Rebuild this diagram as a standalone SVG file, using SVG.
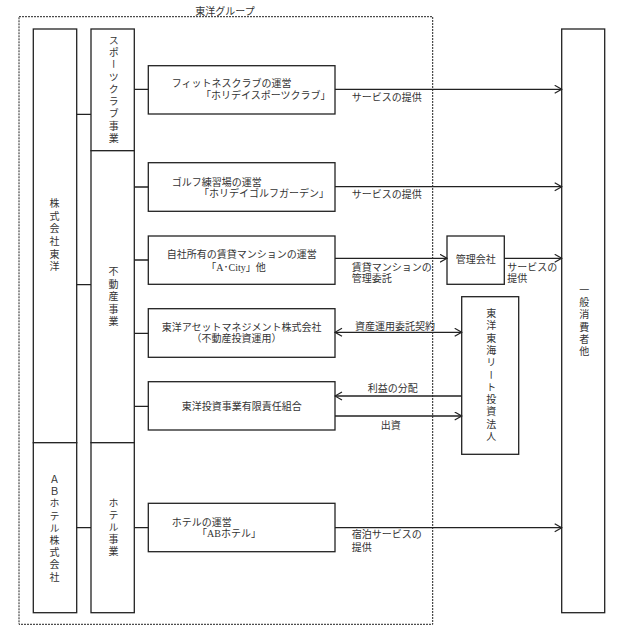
<svg xmlns="http://www.w3.org/2000/svg" width="624" height="630" viewBox="0 0 624 630">
<style>
text{font-family:"Liberation Serif","Noto Sans CJK JP",serif;font-size:10px;fill:#333}
.box{fill:#fff;stroke:#222;stroke-width:1.3}
.ln{fill:none;stroke:#222;stroke-width:1.3}
.v{writing-mode:vertical-rl}
.m{text-anchor:middle}
</style>
<defs>
<marker id="ah" markerUnits="userSpaceOnUse" markerWidth="9" markerHeight="10" refX="7.5" refY="4.5" orient="auto-start-reverse">
<path d="M0.5,0.5 L7.5,4.5 L0.5,8.5" fill="none" stroke="#222" stroke-width="1.2"/>
</marker>
</defs>
<rect id="group" x="19" y="16.7" width="413.7" height="607.6" fill="none" stroke="#222" stroke-width="1" stroke-dasharray="2,1"/>
<text x="225" y="15" class="m">東洋グループ</text>

<g id="toyo"><rect class="box" x="33.3" y="29" width="43.4" height="413.7"/><text class="v" x="53.5" y="198.5" letter-spacing="2.6">株式会社東洋</text></g>
<g id="abhotel"><rect class="box" x="33.3" y="442.7" width="43.4" height="170"/><text class="v" x="53.5" y="474.3" letter-spacing="2.2">ＡＢホテル株式会社</text></g>
<g id="sports"><rect class="box" x="91" y="29" width="43.3" height="121.7"/><text class="v" x="112.8" y="35" letter-spacing="2.25">スポーツクラブ事業</text></g>
<g id="realestate"><rect class="box" x="91" y="150.7" width="43.3" height="292"/><text class="v" x="112.5" y="266.7" letter-spacing="2.5">不動産事業</text></g>
<g id="hotelbiz"><rect class="box" x="91" y="442.7" width="43.3" height="170"/><text class="v" x="112.5" y="498.3" letter-spacing="2.1">ホテル事業</text></g>

<g id="box1"><rect class="box" x="148.3" y="65.7" width="186.7" height="48.3"/><text><tspan x="171.7" y="87">フィットネスクラブの運営</tspan><tspan x="201" y="98.5">「ホリデイスポーツクラブ」</tspan></text></g>
<g id="box2"><rect class="box" x="148.3" y="162.7" width="186.7" height="48.6"/><text><tspan x="171.7" y="185.5">ゴルフ練習場の運営</tspan><tspan x="199" y="196.5">「ホリデイゴルフガーデン」</tspan></text></g>
<g id="box3"><rect class="box" x="148.3" y="236" width="186.7" height="48.3"/><text class="m"><tspan x="241.7" y="258">自社所有の賃貸マンションの運営</tspan><tspan x="236" y="271">「A･City」他</tspan></text></g>
<g id="box4"><rect class="box" x="148.3" y="308.7" width="186.7" height="48.6"/><text class="m"><tspan x="241.7" y="330.5">東洋アセットマネジメント株式会社</tspan><tspan x="236.5" y="341.5">（不動産投資運用）</tspan></text></g>
<g id="box5"><rect class="box" x="148.3" y="381.7" width="186.7" height="48.3"/><text x="241.7" y="409.5" class="m">東洋投資事業有限責任組合</text></g>
<g id="box6"><rect class="box" x="148.3" y="503.3" width="186.7" height="48.4"/><text><tspan x="171.7" y="525.5">ホテルの運営</tspan><tspan x="197" y="536.5">「ABホテル」</tspan></text></g>

<g id="kanri"><rect class="box" x="447" y="236" width="57.3" height="48.3"/><text x="475.7" y="263" class="m">管理会社</text></g>
<g id="reit"><rect class="box" x="461.7" y="296.7" width="57" height="157.6"/><text class="v" x="490.2" y="308.3" letter-spacing="2.3">東洋東海リート投資法人</text></g>
<g id="consumer"><rect class="box" x="561.7" y="29" width="43" height="583.7"/><text class="v" x="583.3" y="285" letter-spacing="2.3">一般消費者他</text></g>

<g id="connectors">
<path class="ln" d="M76.7,114.3H91M76.7,284.7H91M76.7,527.7H91"/>
<path class="ln" d="M134.3,89.3H148.3M134.3,187H148.3M134.3,260H148.3M134.3,333.3H148.3M134.3,406.3H148.3M134.3,527.7H148.3"/>
<line class="ln" x1="335" y1="89.3" x2="561.7" y2="89.3" marker-end="url(#ah)"/>
<line class="ln" x1="335" y1="186.7" x2="561.7" y2="186.7" marker-end="url(#ah)"/>
<line class="ln" x1="335" y1="258.3" x2="447" y2="258.3" marker-end="url(#ah)"/>
<line class="ln" x1="504.3" y1="258.3" x2="561.7" y2="258.3" marker-end="url(#ah)"/>
<line class="ln" x1="335" y1="332.3" x2="461.7" y2="332.3" marker-start="url(#ah)" marker-end="url(#ah)"/>
<line class="ln" x1="461.7" y1="396" x2="335" y2="396" marker-end="url(#ah)"/>
<line class="ln" x1="335" y1="416" x2="461.7" y2="416" marker-end="url(#ah)"/>
<line class="ln" x1="335" y1="527.7" x2="561.7" y2="527.7" marker-end="url(#ah)"/>
<text x="351.7" y="100.5">サービスの提供</text>
<text x="351.7" y="197.5">サービスの提供</text>
<text><tspan x="351.7" y="270.5">賃貸マンションの</tspan><tspan x="351.7" y="281.5">管理委託</tspan></text>
<text><tspan x="507.3" y="270.5">サービスの</tspan><tspan x="507.3" y="281.5">提供</tspan></text>
<text x="395" y="329.5" class="m" font-size="10.6">資産運用委託契約</text>
<text x="392.7" y="392" class="m">利益の分配</text>
<text x="390.7" y="428.5" class="m">出資</text>
<text><tspan x="351.7" y="538">宿泊サービスの</tspan><tspan x="351.7" y="551">提供</tspan></text>
</g>
</svg>
